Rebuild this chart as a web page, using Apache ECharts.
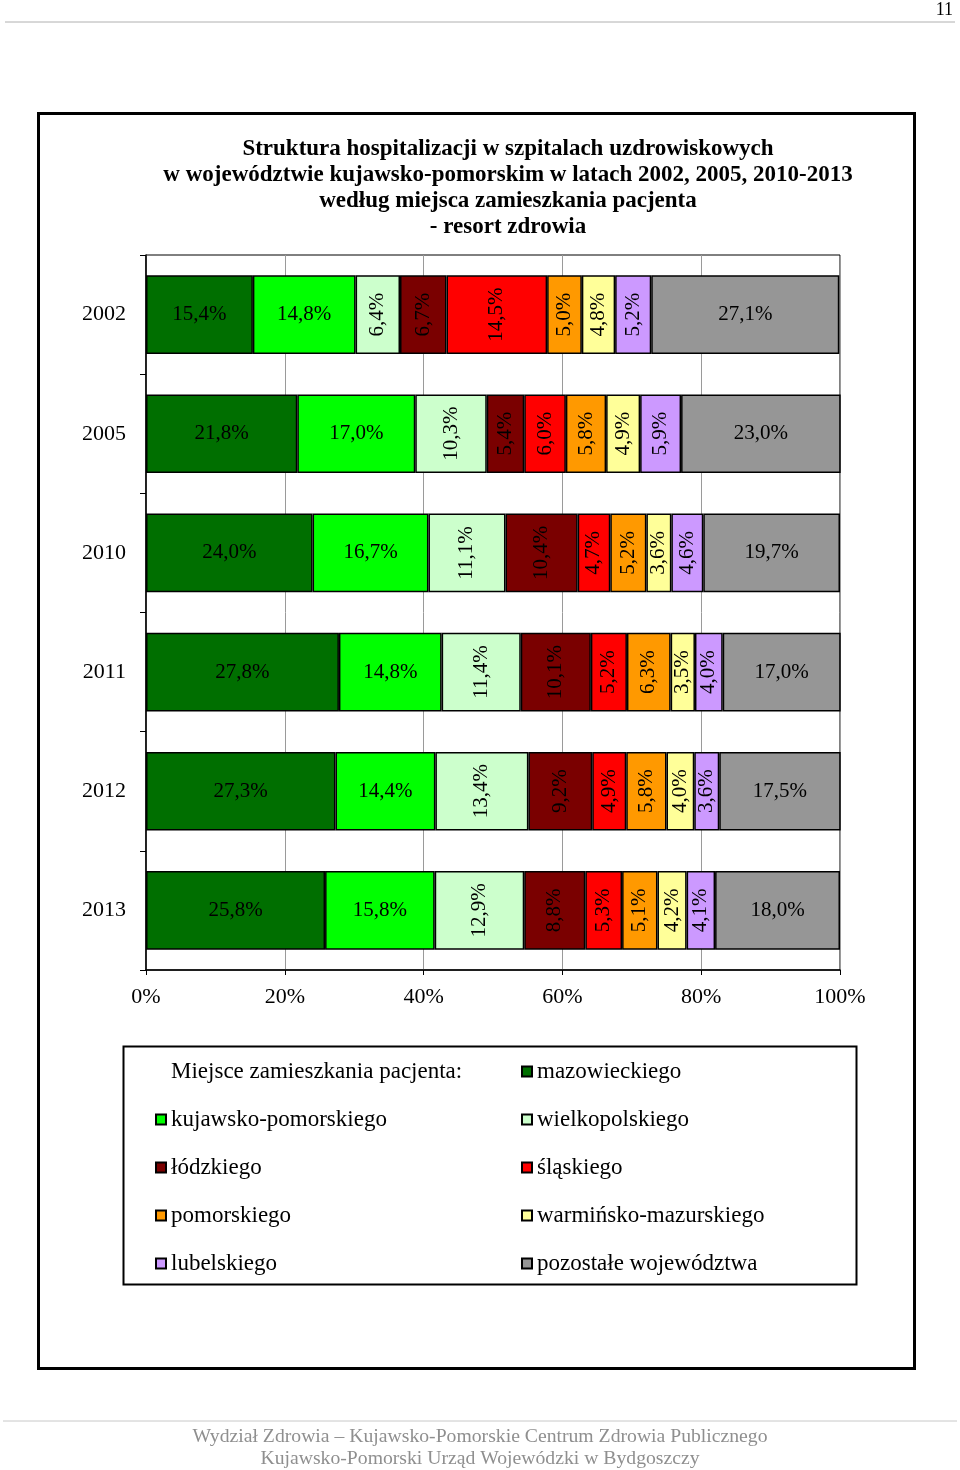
<!DOCTYPE html>
<html>
<head>
<meta charset="utf-8">
<script src="https://cdn.jsdelivr.net/npm/echarts@6/dist/echarts.min.js"></script>
<style>
  html, body { margin: 0; padding: 0; background: #fff; }
  #chart { width: 960px; height: 1470px; }
</style>
</head>
<body>
<div id="chart"></div>
<script>
const years = ['2002', '2005', '2010', '2011', '2012', '2013']
const ticks = [0, 20, 40, 60, 80, 100]

const mazowieckiego = [15.4, 21.8, 24.0, 27.8, 27.3, 25.8]
const kujawskoPomorskiego = [14.8, 17.0, 16.7, 14.8, 14.4, 15.8]
const wielkopolskiego = [6.4, 10.3, 11.1, 11.4, 13.4, 12.9]
const lodzkiego = [6.7, 5.4, 10.4, 10.1, 9.2, 8.8]
const slaskiego = [14.5, 6.0, 4.7, 5.2, 4.9, 5.3]
const pomorskiego = [5.0, 5.8, 5.2, 6.3, 5.8, 5.1]
const warminskoMazurskiego = [4.8, 4.9, 3.6, 3.5, 4.0, 4.2]
const lubelskiego = [5.2, 5.9, 4.6, 4.0, 3.6, 4.1]
const pozostale = [27.1, 23.0, 19.7, 17.0, 17.5, 18.0]

const FONT = '"Liberation Serif", "Times New Roman", serif'

// name, values, colour, rotated label
const seriesDefs = [
  ['mazowieckiego', mazowieckiego, '#006f00', false],
  ['kujawsko-pomorskiego', kujawskoPomorskiego, '#00ff00', false],
  ['wielkopolskiego', wielkopolskiego, '#ccffcc', true],
  ['łódzkiego', lodzkiego, '#7a0000', true],
  ['śląskiego', slaskiego, '#ff0000', true],
  ['pomorskiego', pomorskiego, '#ff9900', true],
  ['warmińsko-mazurskiego', warminskoMazurskiego, '#ffff99', true],
  ['lubelskiego', lubelskiego, '#cc99ff', true],
  ['pozostałe województwa', pozostale, '#969696', false],
]

const chart = echarts.init(document.getElementById('chart'))

const legendText = { fontFamily: FONT, fontSize: 23, color: '#000', lineHeight: 21 }

const option = {
  animation: false,
  backgroundColor: '#fff',
  title: {
    text: 'Struktura hospitalizacji w szpitalach uzdrowiskowych\nw województwie kujawsko-pomorskim w latach 2002, 2005, 2010-2013\nwedług miejsca zamieszkania pacjenta\n- resort zdrowia',
    left: 503,
    textAlign: 'center',
    top: 131,
    textStyle: { fontFamily: FONT, fontSize: 23, fontWeight: 'bold', color: '#000', lineHeight: 26 },
  },
  grid: {
    left: 146, right: 120, top: 255, bottom: 500,
    show: true, borderColor: '#000', borderWidth: 1,
  },
  xAxis: {
    type: 'value',
    min: ticks[0], max: ticks[ticks.length - 1], interval: 20,
    axisLine: { show: true, lineStyle: { color: '#000', width: 1.5 } },
    axisTick: { show: true, length: 5, lineStyle: { color: '#000' } },
    splitLine: { show: true, lineStyle: { color: '#9a9a9a', width: 1 } },
    axisLabel: {
      margin: 16,
      fontFamily: FONT, fontSize: 22, color: '#000',
      formatter: (v) => v + '%',
    },
  },
  yAxis: {
    type: 'category',
    data: years,
    inverse: true,
    axisLine: { show: true, lineStyle: { color: '#000', width: 1.5 } },
    axisTick: { show: true, length: 6, lineStyle: { color: '#000' } },
    axisLabel: { margin: 20, fontFamily: FONT, fontSize: 22, color: '#000' },
  },
  legend: [
    {
      orient: 'vertical',
      left: 516, top: 1055,
      itemWidth: 10, itemHeight: 10, itemGap: 25,
      icon: 'rect',
      textStyle: legendText,
      data: ['mazowieckiego', 'wielkopolskiego', 'śląskiego', 'warmińsko-mazurskiego', 'pozostałe województwa'],
    },
    {
      orient: 'vertical',
      left: 150, top: 1103,
      itemWidth: 10, itemHeight: 10, itemGap: 25,
      icon: 'rect',
      textStyle: legendText,
      data: ['kujawsko-pomorskiego', 'łódzkiego', 'pomorskiego', 'lubelskiego'],
    },
  ],
  graphic: [
    // page header
    { type: 'line', shape: { x1: 5, y1: 22, x2: 955, y2: 22 }, style: { stroke: '#b0b0b0', lineWidth: 1 } },
    { type: 'text', right: 7, top: 1, style: { text: '11', font: '18px ' + FONT, fill: '#000' } },
    // frame
    { type: 'rect', shape: { x: 38.5, y: 113.5, width: 876, height: 1255 }, style: { fill: 'none', stroke: '#000', lineWidth: 3 }, z: -1 },
    // legend box
    { type: 'rect', shape: { x: 123.5, y: 1046.5, width: 733, height: 238 }, style: { fill: 'none', stroke: '#000', lineWidth: 2 } },
    { type: 'text', left: 171, top: 1060, style: { text: 'Miejsce zamieszkania pacjenta:', font: '23px ' + FONT, fill: '#000' } },
    // footer
    { type: 'line', shape: { x1: 3, y1: 1421, x2: 957, y2: 1421 }, style: { stroke: '#c8c8c8', lineWidth: 1 } },
    {
      type: 'text', left: 'center', top: 1426,
      style: {
        text: 'Wydział Zdrowia – Kujawsko-Pomorskie Centrum Zdrowia Publicznego\nKujawsko-Pomorski Urząd Wojewódzki w Bydgoszczy',
        font: '19.7px ' + FONT, fill: '#8f8f8f', textAlign: 'center', lineHeight: 22,
      },
    },
  ],
  series: seriesDefs.map(([name, values, color, rotated]) => ({
    name,
    type: 'bar',
    stack: 'total',
    barCategoryGap: '34%',
    data: values,
    itemStyle: { color, borderColor: '#000', borderWidth: 1.5 },
    label: {
      show: true,
      position: 'inside',
      rotate: rotated ? 90 : 0,
      align: 'center',
      verticalAlign: 'middle',
      fontFamily: FONT,
      fontSize: 21,
      color: '#000',
      formatter: (p) => p.value.toFixed(1).replace('.', ',') + '%',
    },
  })),
}

chart.setOption(option)
</script>
</body>
</html>
